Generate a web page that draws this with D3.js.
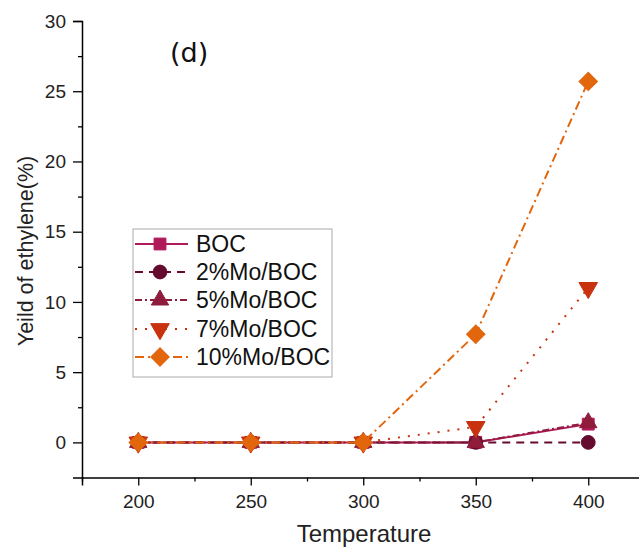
<!DOCTYPE html>
<html><head><meta charset="utf-8">
<script src="https://cdn.jsdelivr.net/npm/d3@7"></script>
<style>body{margin:0;background:#fff}svg{display:block}</style>
</head><body><svg id="c" width="639" height="549"></svg>
<script>
const temps = [200, 250, 300, 350, 400];
const seriesNames = ["BOC", "2%Mo/BOC", "5%Mo/BOC", "7%Mo/BOC", "10%Mo/BOC"];
const boc   = [0, 0, 0, 0, 1.3];
const mo2   = [0, 0, 0, 0, 0];
const mo5   = [0, 0, 0, 0, 1.4];
const mo7   = [0, 0, 0, 1.1, 11.0];
const mo10  = [0, 0, 0, 7.7, 25.7];
const xTicks = [200, 250, 300, 350, 400];
const yTicks = [0, 5, 10, 15, 20, 25, 30];

const values = [boc, mo2, mo5, mo7, mo10];
const colors = ["#b0195a", "#650b30", "#8e1c3a", "#c8320f", "#e2660c"];
const dashes = [null, "8,6", "7,3,2,3", "2,8", "9,4,2,4"];
const symbols = [d3.symbolSquare, d3.symbolCircle, d3.symbolTriangle, d3.symbolTriangle, d3.symbolSquare];
const symSize = [140, 150, 130, 150, 170];
const symRot = [0, 0, 0, 180, 45];

const svg = d3.select("#c");
const x = d3.scaleLinear().domain([175, 425]).range([82, 644.5]);
const y = d3.scaleLinear().domain([-2.5, 30]).range([477.5, 21]);
const font = "'Liberation Sans', Arial, sans-serif";

// axes
svg.append("g").attr("transform", `translate(0,${y(-2.5)})`)
  .call(d3.axisBottom(x).tickValues(xTicks).tickSize(8).tickPadding(9).tickFormat(d3.format("d")));
svg.append("g").attr("transform", `translate(0,${y(-2.5)})`)
  .call(d3.axisBottom(x).tickValues([175,225,275,325,375]).tickSize(4).tickFormat(""))
  .select(".domain").remove();
svg.append("g").attr("transform", `translate(${x(175)},0)`)
  .call(d3.axisLeft(y).tickValues(yTicks).tickSize(9).tickPadding(7));
svg.append("g").attr("transform", `translate(${x(175)},0)`)
  .call(d3.axisLeft(y).tickValues([2.5,7.5,12.5,17.5,22.5,27.5]).tickSize(4).tickFormat(""))
  .select(".domain").remove();
svg.selectAll(".domain").attr("stroke", "#000").attr("stroke-width", 1.5);
svg.selectAll(".tick line").attr("stroke", "#000").attr("stroke-width", 1.3);
svg.selectAll(".tick text").attr("font-family", font).attr("font-size", 19).attr("fill", "#222");

svg.append("text").attr("x", 364).attr("y", 542).attr("text-anchor", "middle")
  .attr("font-family", font).attr("font-size", 24).attr("fill", "#222").text("Temperature");
svg.append("text").attr("transform", "translate(33,251) rotate(-90)").attr("text-anchor", "middle")
  .attr("font-family", font).attr("font-size", 21.5).attr("fill", "#222").text("Yeild of ethylene(%)");
svg.append("text").attr("x", 170).attr("y", 62)
  .attr("font-family", "'DejaVu Sans', sans-serif").attr("font-size", 27).attr("fill", "#111").text("(d)");

const line = d3.line().x((d, i) => x(temps[i])).y(d => y(d));
function marker(g, i, cx, cy) {
  g.append("path").attr("d", d3.symbol().type(symbols[i]).size(symSize[i])())
    .attr("transform", `translate(${cx},${cy}) rotate(${symRot[i]})`)
    .attr("fill", colors[i]).attr("stroke", colors[i]).attr("stroke-width", 1);
}
values.forEach((vals, i) => {
  const g = svg.append("g");
  g.append("path").datum(vals).attr("d", line).attr("fill", "none")
    .attr("stroke", colors[i]).attr("stroke-width", 2)
    .attr("stroke-dasharray", dashes[i]);
  vals.forEach((v, j) => marker(g, i, x(temps[j]), y(v)));
});

// legend
const lg = svg.append("g");
lg.append("rect").attr("x", 133).attr("y", 229).attr("width", 199).attr("height", 148)
  .attr("fill", "#fff").attr("stroke", "#aaa").attr("stroke-width", 1);
const rowY = [244, 272, 300, 329, 357];
seriesNames.forEach((name, i) => {
  lg.append("line").attr("x1", 135).attr("x2", 188).attr("y1", rowY[i]).attr("y2", rowY[i])
    .attr("stroke", colors[i]).attr("stroke-width", 2).attr("stroke-dasharray", dashes[i]);
  marker(lg, i, 160, rowY[i]);
  lg.append("text").attr("x", 196).attr("y", rowY[i] + 8).attr("font-family", font)
    .attr("font-size", 23).attr("fill", "#111").text(name);
});
</script></body></html>
